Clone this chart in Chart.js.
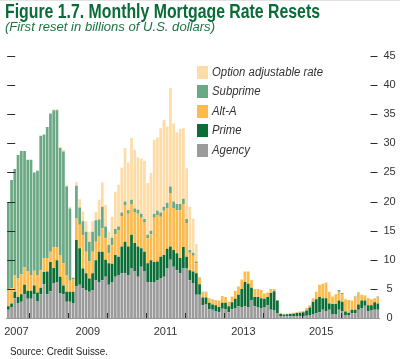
<!DOCTYPE html>
<html>
<head>
<meta charset="utf-8">
<script src="https://cdn.jsdelivr.net/npm/chart.js@4.4.1/dist/chart.umd.min.js"></script>
<style>
  html, body { margin: 0; padding: 0; background: #fff; }
  #wrap { position: relative; width: 400px; height: 359px; overflow: hidden; }
  #topline { position: absolute; left: 0; top: 0; width: 400px; height: 1px; background: #e2e2e2; }
  canvas { position: absolute; left: 0; top: 0; }
  .txt { position: absolute; white-space: nowrap; transform-origin: 0 0; font-family: "Liberation Sans", Arial, sans-serif; }
  #title { left: 5px; top: 1.8px; font-size: 19.5px; line-height: 19.5px; font-weight: bold; color: #0b6b38; }
  #subtitle { left: 5px; top: 20.8px; font-size: 12px; line-height: 12px; font-style: italic; color: #1d7343; }
  #source { left: 10px; top: 346px; font-size: 10.5px; line-height: 10.5px; color: #222; }
  .sw { position: absolute; width: 11px; height: 13px; }
  .lab { position: absolute; white-space: nowrap; transform-origin: 0 50%; font-family: "Liberation Sans", Arial, sans-serif;
         font-size: 12px; line-height: 13px; font-style: italic; color: #333; }
</style>
</head>
<body>
<div id="wrap">
  <canvas id="chart" width="400" height="359" style="width:400px;height:359px"></canvas>
  <div id="topline"></div>
  <span class="txt" id="title">Figure 1.7. Monthly Mortgage Rate Resets</span>
  <span class="txt" id="subtitle">(First reset in billions of U.S. dollars)</span>
  <span class="txt" id="source">Source: Credit Suisse.</span>
  <div id="legend"></div>
</div>
<script>
// monthly categories, June 2007 to December 2016
const firstYear = 2007, firstMonth = 6, monthCount = 115;
const months = [];
for (let i = 0; i < monthCount; i++) {
  const m = firstMonth - 1 + i;
  months.push((firstYear + Math.floor(m / 12)) + "-" + String(m % 12 + 1).padStart(2, "0"));
}

// x labels sit mid-year
const yearTickMonths = ["2007-09", "2009-07", "2011-07", "2013-07", "2015-07"];
const yearTickLabels = ["2007", "2009", "2011", "2013", "2015"];
const yMin = 0, yMax = 45, yStep = 5;

// billions of U.S. dollars
const agency = [
  1.4, 1.9, 3.4, 2.5, 2.8, 4.1, 3.3, 3.3, 4.1, 2.9,
  4.1, 5.8, 4.1, 4.6, 6.0, 6.2, 4.2, 4.1, 2.8, 2.8,
  2.5, 5.4, 5.7, 5.1, 4.8, 4.5, 4.8, 6.5, 6.2, 6.5,
  7.1, 5.7, 6.2, 7.1, 7.4, 7.7, 7.7, 7.4, 8.6, 8.0,
  7.1, 8.8, 8.0, 6.2, 6.2, 6.2, 6.5, 6.8, 7.1, 8.5,
  10.0, 8.8, 8.2, 7.7, 8.5, 8.5, 6.5, 6.0, 4.0, 4.0,
  2.2, 2.3, 1.5, 1.4, 1.2, 1.0, 1.6, 1.5, 1.0, 1.5,
  1.7, 2.0, 1.9, 2.0, 1.9, 3.0, 2.0, 1.9, 1.7, 1.9,
  2.2, 1.4, 1.3, 0.8, 0.35, 0.3, 0.3, 0.3, 0.3, 0.3,
  0.3, 0.3, 0.4, 0.5, 0.6, 0.8, 1.0, 1.4, 1.1, 1.4,
  0.7, 0.7, 1.4, 1.1, 0.5, 0.5, 0.8, 0.8, 1.4, 1.7,
  2.1, 1.1, 1.3, 1.4, 1.4
];
const prime = [
  0.6, 0.6, 1.1, 1.1, 1.3, 1.6, 1.4, 1.4, 1.5, 1.5,
  1.1, 2.1, 3.9, 5.0, 2.6, 3.7, 2.9, 1.5, 1.7, 1.7,
  2.0, 8.0, 6.3, 3.4, 2.9, 2.3, 2.9, 3.4, 5.2, 4.9,
  2.9, 3.7, 3.1, 3.7, 3.1, 4.6, 5.4, 4.9, 5.7, 4.9,
  5.2, 3.2, 3.4, 3.2, 3.7, 3.4, 3.2, 3.7, 3.7, 3.4,
  2.3, 2.9, 2.9, 2.6, 3.7, 2.0, 1.7, 2.0, 3.7, 1.8,
  1.3, 1.2, 1.1, 0.9, 1.0, 0.9, 1.0, 1.1, 1.0, 1.2,
  1.6, 2.0, 3.1, 4.2, 4.0, 2.2, 1.6, 1.7, 1.7, 1.4,
  1.4, 2.9, 3.3, 2.2, 0.35, 0.3, 0.35, 0.4, 0.45, 0.55,
  0.6, 0.7, 0.9, 1.3, 2.2, 2.4, 2.6, 2.0, 2.3, 1.1,
  1.7, 1.7, 1.6, 1.7, 0.6, 0.4, 0.6, 0.6, 0.9, 1.3,
  0.9, 1.1, 0.9, 1.3, 1.1
];
const altA = [
  2.9, 2.6, 2.9, 3.2, 3.4, 3.0, 3.3, 2.6, 2.5, 3.0,
  3.0, 2.4, 2.3, 1.8, 3.6, 2.3, 3.7, 3.8, 2.9, 1.9,
  2.2, 3.7, 4.0, 5.7, 3.7, 2.9, 3.7, 3.2, 2.6, 4.0,
  3.7, 1.7, 3.2, 3.6, 4.6, 5.2, 6.3, 5.6, 5.3, 5.2,
  5.6, 5.2, 5.0, 4.3, 4.5, 7.6, 8.0, 6.9, 7.6, 7.0,
  9.1, 7.2, 7.4, 8.2, 7.4, 5.8, 3.0, 2.7, 1.7, 1.0,
  0.9, 0.9, 0.8, 0.9, 0.9, 1.1, 1.2, 1.0, 0.8, 1.0,
  1.4, 1.4, 1.6, 1.8, 2.1, 1.3, 1.4, 1.4, 1.4, 0.9,
  0.8, 0.7, 0.4, 0.1, 0.2, 0.1, 0.1, 0.1, 0.15, 0.15,
  0.2, 0.2, 0.4, 0.4, 0.6, 1.3, 2.1, 2.5, 2.7, 2.0,
  1.3, 1.7, 1.5, 1.3, 2.1, 2.2, 1.6, 2.1, 1.9, 1.0,
  0.9, 1.1, 1.0, 0.7, 1.1
];
const subprime = [
  14.9, 18.6, 18.2, 21.2, 21.2, 20.0, 19.2, 19.9, 16.9, 17.9,
  23.1, 21.2, 22.5, 23.7, 23.5, 23.5, 18.4, 19.2, 15.2, 12.4,
  0.2, 5.6, 3.0, 2.4, 3.4, 3.4, 3.4, 3.7, 2.9, 3.7,
  2.0, 1.5, 1.3, 0.9, 0.6, 0.6, 0.6, 0.6, 0.7, 0.7,
  0.7, 0.7, 0.6, 0.6, 0.6, 0.7, 0.7, 0.7, 0.7, 0.9,
  1.2, 1.1, 1.1, 1.1, 0.9, 0.7, 0.5, 0.5, 0.3, 0.1,
  0.1, 0.1, 0, 0, 0, 0, 0, 0, 0, 0,
  0, 0, 0, 0, 0, 0, 0, 0, 0, 0,
  0, 0, 0, 0, 0, 0, 0, 0, 0, 0,
  0, 0, 0, 0, 0, 0, 0, 0, 0, 0,
  0, 0, 0.3, 0.2, 0, 0, 0, 0.2, 0.2, 0,
  0, 0.1, 0, 0, 0.1
];
const optionArm = [
  0, 0, 0, 0, 0, 0, 0, 0, 0, 0,
  0, 0, 0, 0.1, 0.1, 0.2, 0.2, 0.3, 0.3, 0.3,
  0, 0.6, 1.4, 1.7, 1.8, 1.7, 1.8, 1.4, 3.4, 4.2,
  3.7, 2.2, 3.6, 6.4, 7.2, 7.7, 9.2, 8.2, 10.6, 10.1,
  9.0, 9.5, 10.0, 8.9, 9.9, 12.7, 12.6, 14.5, 14.9, 13.1,
  16.9, 13.4, 12.3, 12.8, 12.1, 8.7, 7.4, 5.9, 3.0, 0.2,
  0, 0, 0, 0, 0, 0, 0, 0, 0, 0,
  0, 0, 0, 0, 0, 0, 0, 0, 0, 0,
  0, 0, 0, 0, 0, 0, 0, 0, 0, 0,
  0, 0, 0, 0, 0, 0, 0, 0, 0, 0,
  0, 0, 0, 0, 0, 0, 0, 0, 0, 0,
  0, 0, 0, 0, 0
];

const seriesNames = ["Agency", "Prime", "Alt-A", "Subprime", "Option adjustable rate"];
const seriesColors = ["#9b9b9b", "#0b6e37", "#fdbb4d", "#6aa983", "#fedca8"];
const seriesValues = [agency, prime, altA, subprime, optionArm];

// small dashes on both sides of the value axis, and year marks along the base
const axisMarks = {
  id: "axisMarks",
  afterDatasetsDraw(chart) {
    const { ctx, chartArea, scales: { x, y } } = chart;
    ctx.save();
    ctx.strokeStyle = "#2b2b2b";
    ctx.lineWidth = 1;
    ctx.beginPath();
    y.ticks.forEach(t => {
      if (t.value === 0) return;
      const py = Math.round(y.getPixelForValue(t.value)) + 0.5;
      ctx.moveTo(chartArea.left + 0.5, py);
      ctx.lineTo(chartArea.left + 8.5, py);
      ctx.moveTo(chartArea.right - 9, py);
      ctx.lineTo(chartArea.right - 2, py);
    });
    const slot = x.width / months.length;
    months.forEach((m, i) => {
      if (!m.endsWith("-01")) return;
      const px = Math.round(x.getPixelForValue(i) - slot / 2) + 0.5;
      ctx.moveTo(px, chartArea.bottom);
      ctx.lineTo(px, chartArea.bottom - 5);
    });
    ctx.stroke();
    ctx.restore();
  }
};

Chart.defaults.font.family = '"Liberation Sans", Arial, sans-serif';
Chart.defaults.font.size = 11;
Chart.defaults.color = "#333";

const chart = new Chart(document.getElementById("chart").getContext("2d"), {
  type: "bar",
  data: {
    labels: months,
    datasets: seriesValues.map((vals, i) => ({
      label: seriesNames[i],
      data: vals,
      backgroundColor: seriesColors[i],
      borderWidth: 0,
      barPercentage: 1,
      categoryPercentage: 0.84
    }))
  },
  options: {
    responsive: false,
    animation: false,
    devicePixelRatio: 1,
    layout: { padding: { left: 6.7, top: 56, right: 0, bottom: 0 } },
    plugins: { legend: { display: false }, tooltip: { enabled: false } },
    scales: {
      x: {
        stacked: true,
        grid: { display: false, drawTicks: false },
        border: { display: true, color: "#9a9a9a", width: 1 },
        ticks: {
          autoSkip: false, maxRotation: 0, minRotation: 0,
          padding: 7, labelOffset: -1.6,
          callback: (v, i) => {
            const k = yearTickMonths.indexOf(months[i]);
            return k < 0 ? "" : yearTickLabels[k];
          }
        },
        afterFit: s => { s.height = 41; }
      },
      y: {
        stacked: true,
        position: "right",
        min: yMin, max: yMax,
        grid: { display: false, drawTicks: false },
        border: { display: false },
        ticks: { stepSize: yStep, padding: 4, crossAlign: "center" },
        afterFit: s => { s.width = 20.5; }
      }
    }
  },
  plugins: [axisMarks]
});

// legend, top entry is the top of the stack
const legend = document.getElementById("legend");
const legendRows = [];
chart.data.datasets.slice().reverse().forEach((ds, i) => {
  const top = 66 + i * 19.4;
  const sw = document.createElement("div");
  sw.className = "sw";
  sw.style.left = "197px";
  sw.style.top = top + "px";
  sw.style.background = ds.backgroundColor;
  legend.appendChild(sw);
  const lab = document.createElement("span");
  lab.className = "lab";
  lab.style.left = "212px";
  lab.style.top = top + "px";
  lab.textContent = ds.label;
  legend.appendChild(lab);
  legendRows.push(lab);
});

// squeeze text to the narrow face used in the figure
function squeeze(el, w) {
  const r = el.getBoundingClientRect().width;
  const k = w / r;
  el.style.transform = "scaleX(" + k + ")";
  return k;
}
squeeze(document.getElementById("title"), 315);
squeeze(document.getElementById("subtitle"), 210);
squeeze(document.getElementById("source"), 98);
const k = 111 / legendRows[0].getBoundingClientRect().width;
legendRows.forEach(el => { el.style.transform = "scaleX(" + k + ")"; });
</script>
</body>
</html>
